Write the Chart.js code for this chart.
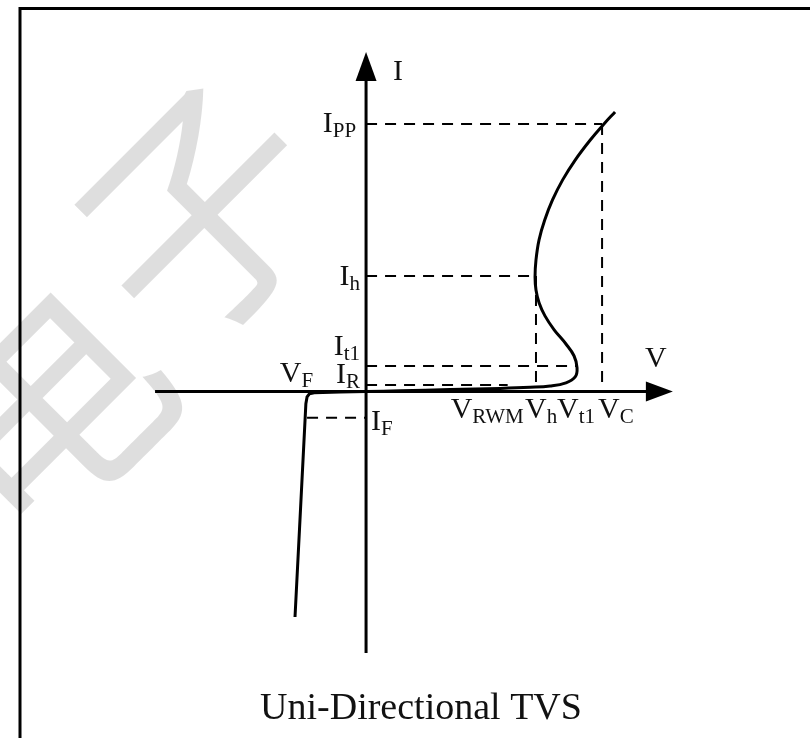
<!DOCTYPE html>
<html>
<head>
<meta charset="utf-8">
<script src="https://cdn.jsdelivr.net/npm/chart.js@4.4.0/dist/chart.umd.min.js"></script>
<style>
	html, body { margin: 0; padding: 0; background: #fff; }
	#wrap { position: relative; width: 810px; height: 738px; }
</style>
</head>
<body>
<div id="wrap"><canvas id="chart"></canvas></div>
<script>
// breakdown branch (V > 0), in arbitrary V / I units
const breakdownV = [0, 1.44, 3.56, 5.68, 6.95, 7.8, 8.47, 8.86, 8.94, 8.81, 8.47, 7.97, 7.58, 7.33, 7.2, 7.16, 7.2, 7.33, 7.57, 7.9, 8.33, 8.86, 9.5, 10.08, 10.55];
const breakdownI = [0, 0.03, 0.08, 0.12, 0.16, 0.21, 0.33, 0.55, 0.89, 1.34, 1.78, 2.31, 2.83, 3.32, 3.8, 4.28, 4.92, 5.67, 6.41, 7.16, 7.91, 8.65, 9.4, 10.0, 10.45];

// forward branch (V < 0)
const forwardV = [0, -1.1, -2.2, -2.4, -2.5, -2.55, -2.8, -3.01];
const forwardI = [0, -0.01, -0.04, -0.08, -0.2, -0.45, -4.79, -8.42];

// current levels: label, value, where the dashed line stops
const currentNames = [['I', 'PP'], ['I', 'h'], ['I', 't1'], ['I', 'R'], ['I', 'F']];
const currentValues = [10, 4.32, 0.96, 0.25, -0.98];
const currentReachV = [10, 7.2, 8.94, 6.0, -2.5];

// voltage levels
const voltageNames = [['V', 'RWM'], ['V', 'h'], ['V', 't1'], ['V', 'C']];
const voltageValues = [5.13, 7.2, 8.94, 10];
const voltageDropFrom = [null, 4.32, null, 10];
const vfValue = -2.5;

// axis extents (arrow tips)
const vAxisRange = [-8.94, 13.0];
const iAxisRange = [-9.76, 12.69];

const toPts = (xs, ys) => xs.map((x, i) => ({ x: x, y: ys[i] }));

const dashSets = [];
currentValues.forEach((v, i) => {
	const x0 = v < 0 ? currentReachV[i] : 0;
	const x1 = v < 0 ? 0 : currentReachV[i];
	dashSets.push({ data: [{ x: x0, y: v }, { x: x1, y: v }] });
});
voltageValues.forEach((v, i) => {
	if (voltageDropFrom[i] === null) return;
	dashSets.push({ data: [{ x: v, y: voltageDropFrom[i] }, { x: v, y: 0 }] });
});

const datasets = [
	{
		data: toPts(breakdownV, breakdownI),
		borderColor: '#000',
		borderWidth: 3,
		tension: 0.4,
		pointRadius: 0,
		showLine: true,
	},
	{
		data: toPts(forwardV, forwardI),
		borderColor: '#000',
		borderWidth: 3,
		tension: 0,
		pointRadius: 0,
		showLine: true,
	},
].concat(dashSets.map(d => ({
	data: d.data,
	borderColor: '#000',
	borderWidth: 2,
	borderDash: [11, 8],
	pointRadius: 0,
	showLine: true,
})));

function subText(ctx, parts, x, y, align) {
	ctx.font = '30px "Liberation Serif"';
	const w1 = ctx.measureText(parts[0]).width;
	ctx.font = '21px "Liberation Serif"';
	const w2 = ctx.measureText(parts[1]).width;
	let left = x;
	if (align === 'right') left = x - w1 - w2;
	if (align === 'center') left = x - (w1 + w2) / 2;
	ctx.textAlign = 'left';
	ctx.textBaseline = 'alphabetic';
	ctx.font = '30px "Liberation Serif"';
	ctx.fillText(parts[0], left, y);
	ctx.font = '21px "Liberation Serif"';
	ctx.fillText(parts[1], left + w1, y + 5);
}

const decor = {
	id: 'decor',
	beforeDatasetsDraw(chart) {
		const { ctx } = chart;
		ctx.save();
		// faint watermark
		ctx.fillStyle = 'rgba(0,0,0,0.13)';
		ctx.font = '240px "Noto Sans CJK SC"';
		ctx.textAlign = 'center';
		ctx.textBaseline = 'middle';
		[['子', 200, 212], ['电', 42, 408]].forEach(w => {
			ctx.save();
			ctx.translate(w[1], w[2]);
			ctx.rotate(-Math.PI / 4);
			ctx.fillText(w[0], 0, 0);
			ctx.restore();
		});
		// frame
		ctx.strokeStyle = '#000';
		ctx.lineWidth = 3;
		ctx.beginPath();
		ctx.moveTo(20, 738);
		ctx.lineTo(20, 8.5);
		ctx.lineTo(810, 8.5);
		ctx.stroke();
		ctx.restore();
	},
	afterDatasetsDraw(chart) {
		const { ctx, scales: { x, y } } = chart;
		const ox = x.getPixelForValue(0);
		const oy = y.getPixelForValue(0);
		ctx.save();
		ctx.strokeStyle = '#000';
		ctx.fillStyle = '#000';
		ctx.lineWidth = 3;
		// axes
		const vTip = x.getPixelForValue(vAxisRange[1]);
		const iTip = y.getPixelForValue(iAxisRange[1]);
		ctx.beginPath();
		ctx.moveTo(x.getPixelForValue(vAxisRange[0]), oy);
		ctx.lineTo(vTip - 20, oy);
		ctx.moveTo(ox, y.getPixelForValue(iAxisRange[0]));
		ctx.lineTo(ox, iTip + 20);
		ctx.stroke();
		ctx.beginPath();
		ctx.moveTo(vTip, oy);
		ctx.lineTo(vTip - 27, oy - 10);
		ctx.lineTo(vTip - 27, oy + 10);
		ctx.closePath();
		ctx.fill();
		ctx.beginPath();
		ctx.moveTo(ox, iTip);
		ctx.lineTo(ox - 10.5, iTip + 29);
		ctx.lineTo(ox + 10.5, iTip + 29);
		ctx.closePath();
		ctx.fill();

		ctx.fillStyle = '#111';
		ctx.font = '30px "Liberation Serif"';
		ctx.textAlign = 'left';
		ctx.fillText('I', ox + 27, iTip + 28);
		ctx.fillText('V', vTip - 28, oy - 25);

		// current labels
		const cOff = [[-10, 8], [-6, 9], [-6, -11], [-6, -2]];
		currentValues.forEach((v, i) => {
			const py = y.getPixelForValue(v);
			if (v < 0) {
				subText(ctx, currentNames[i], ox + 5, py + 12, 'left');
			} else {
				subText(ctx, currentNames[i], ox + cOff[i][0], py + cOff[i][1], 'right');
			}
		});
		subText(ctx, ['V', 'F'], x.getPixelForValue(vfValue) + 6, oy - 10, 'right');

		// voltage labels
		const vOff = [0, -11, -20, -4];
		voltageValues.forEach((v, i) => {
			const px = x.getPixelForValue(v);
			if (i === 0) subText(ctx, voltageNames[i], px, oy + 26, 'center');
			else subText(ctx, voltageNames[i], px + vOff[i], oy + 26, 'left');
		});

		// caption
		ctx.font = '38px "Liberation Serif"';
		ctx.textAlign = 'center';
		ctx.fillText('Uni-Directional TVS', 421, 719);
		ctx.restore();
	},
};

const config = {
	type: 'scatter',
	data: { datasets },
	options: {
		responsive: true,
		maintainAspectRatio: false,
		animation: false,
		layout: { padding: 0 },
		scales: {
			x: { type: 'linear', min: -15.51, max: 18.81, display: false },
			y: { type: 'linear', min: -12.94, max: 14.63, display: false },
		},
		plugins: {
			legend: { display: false },
			tooltip: { enabled: false },
		},
	},
	plugins: [decor],
};

const myChart = new Chart(document.getElementById('chart'), config);
</script>
</body>
</html>
